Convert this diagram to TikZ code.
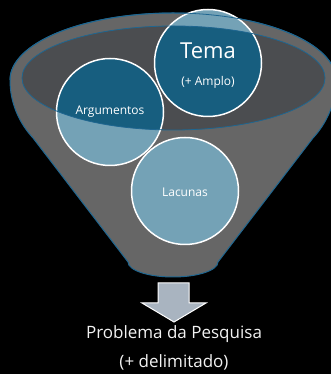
\documentclass[tikz,border=0pt]{standalone}
\usepackage{fontspec}
\setmainfont{Open Sans}

\definecolor{funnelgray}{HTML}{666666}
\definecolor{rimgray}{HTML}{4B4D50}
\definecolor{rimblue}{HTML}{1F6690}
\definecolor{deepblue}{HTML}{175E7F}
\definecolor{paleblue}{HTML}{74A2B6}
\definecolor{arrowgray}{HTML}{A9B4C0}

\begin{document}
\begin{tikzpicture}[x=1pt, y=1pt,
	bubble/.style={circle, minimum size=107pt, inner sep=0pt, fill=paleblue},
	caption/.style={text=white, inner sep=0pt, font=\fontsize{12}{14}\selectfont}]

	\fill[black] (0,0) rectangle (331,374);
	\clip (0,0) rectangle (331,374);

	\draw[rimblue, fill=funnelgray, line width=1pt] (10,294) arc[start angle=180, end angle=0, x radius=163, y radius=67]
		.. controls (336,270) and (326,250) .. (313,236) -- (218,112)
		arc[start angle=0, end angle=-180, x radius=45, y radius=15]
		-- (33,236) .. controls (20,250) and (10,270) .. (10,294) -- cycle;
	\fill[rimgray] (173.5,296) ellipse [x radius=151.5, y radius=52];

	\node[bubble] (tema) at (208,311) {};
	\node[bubble] (argumentos) at (110,262) {};
	\node[bubble] (lacunas) at (185,183) {};

	\begin{scope}
		\clip (173.5,296) ellipse [x radius=151.5, y radius=52];
		\fill[deepblue] (tema.center) circle (53.5);
		\fill[deepblue] (argumentos.center) circle (53.5);
		\fill[deepblue] (lacunas.center) circle (53.5);
	\end{scope}

	\draw[white, line width=1.5pt] (tema.center) circle (53.5);
	\draw[white, line width=1.5pt] (argumentos.center) circle (53.5);
	\draw[white, line width=1.5pt] (lacunas.center) circle (53.5);
	\draw[rimblue, line width=0.8pt] (173.5,296) ellipse [x radius=151.5, y radius=52];
	\draw[rimblue, line width=0.8pt] (10,294) arc[start angle=180, end angle=0, x radius=163, y radius=67];

	\node[caption, font=\fontsize{22}{24}\selectfont] (temaname) at (208,323) {Tema};
	\node[caption] (temanote) at (208,292) {(+ Amplo)};
	\node[caption] (argname) at (110,262) {Argumentos};
	\node[caption] (lacname) at (185,182) {Lacunas};

	\draw[white, fill=arrowgray, line width=1pt] (158,91) -- (189,91) -- (189,71) -- (206,71) -- (174,52) -- (142,71) -- (158,71) -- cycle;

	\node[caption, text=white!90!gray, font=\fontsize{17}{19}\selectfont] (problema) at (174,40) {Problema da Pesquisa};
	\node[caption, text=white!90!gray, font=\fontsize{17}{19}\selectfont] (delimitado) at (174,12) {(+ delimitado)};

\end{tikzpicture}
\end{document}
